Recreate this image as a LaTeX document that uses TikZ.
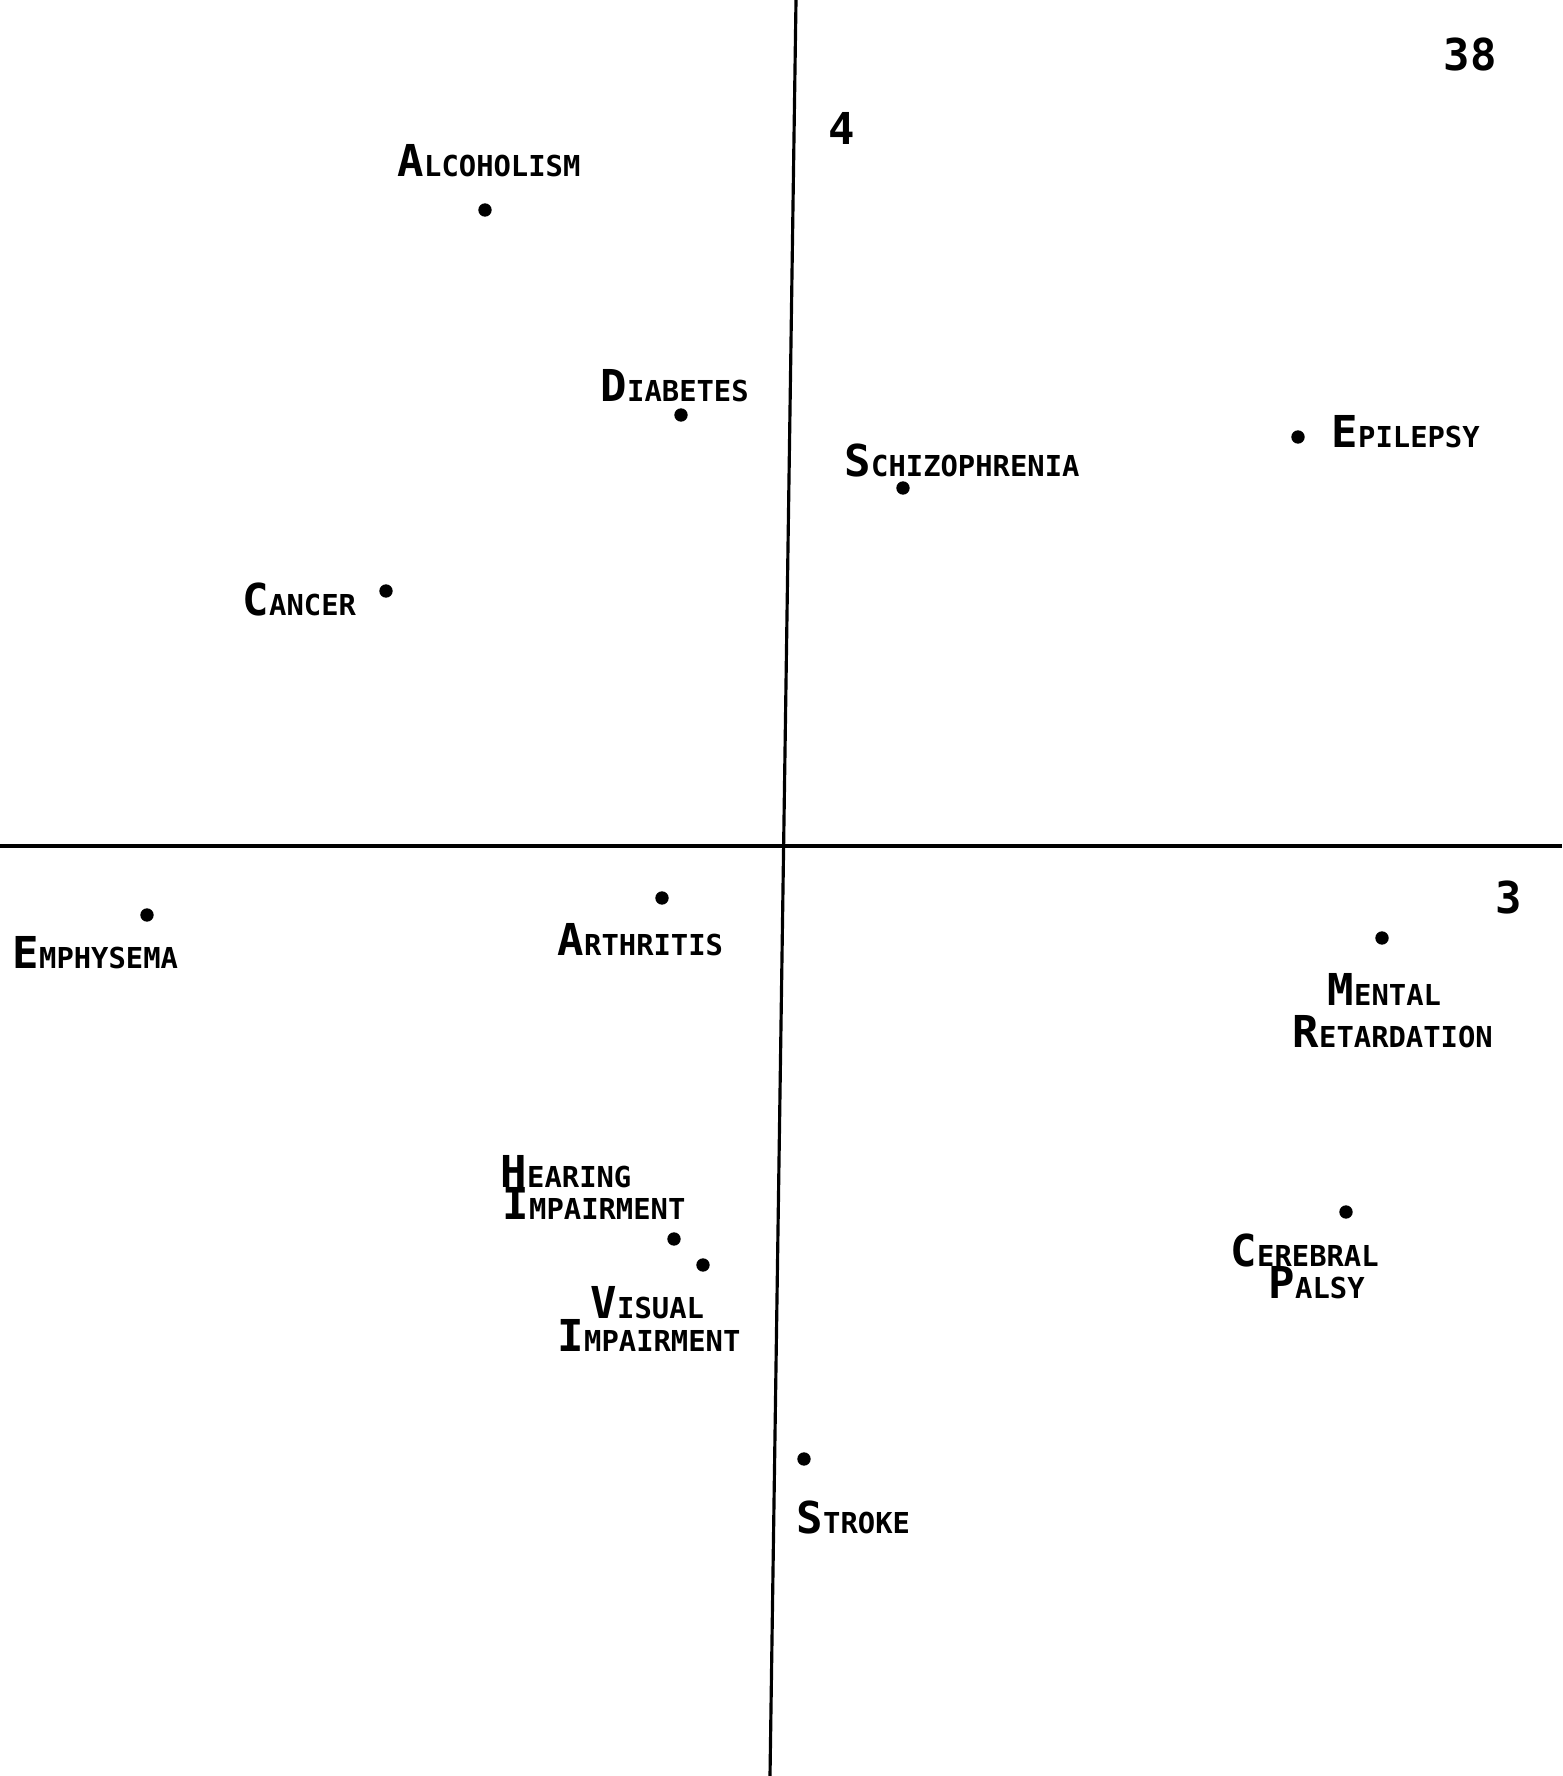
\documentclass[tikz,border=0pt]{standalone}
\usepackage{fontspec}
\newfontfamily\plotfont{DejaVu Sans Mono}
\newcommand{\capsz}{\fontsize{12.5}{14}\selectfont}
\newcommand{\scsz}{\fontsize{8.2}{10}\selectfont}
\newcommand{\plotsc}[2]{{\capsz #1}{\scsz #2}}
\tikzset{
  pt/.style={circle, fill=black, inner sep=0pt, minimum size=3.8pt},
  lbl/.style={anchor=base west, inner sep=0pt, font=\plotfont\bfseries},
  axis/.style={line width=0.9pt}
}

\begin{document}
\begin{tikzpicture}[x=0.01cm, y=-0.01cm]
      \useasboundingbox (0,0) rectangle (1562,1776);
      % axes
      \coordinate (top) at (796,0);
      \coordinate (bot) at (770,1776);
      \coordinate (lft) at (0,846);
      \coordinate (rgt) at (1562,846);
      \draw[axis] (top) -- (bot);
      \draw[axis] (lft) -- (rgt);
      % quadrant numbers
      \node[lbl] (q4) at (828,145) {\capsz 4};
      \node[lbl] (q3) at (1495,913) {\capsz 3};
      \node[lbl] (pg) at (1443,71) {\capsz 38};
      % points
      \node[pt] (alc) at (485,210) {};
      \node[pt] (dia) at (681,415) {};
      \node[pt] (sch) at (903,488) {};
      \node[pt] (epi) at (1298,437) {};
      \node[pt] (can) at (386,591) {};
      \node[pt] (emp) at (147,915) {};
      \node[pt] (art) at (662,898) {};
      \node[pt] (men) at (1382,938) {};
      \node[pt] (hea) at (674,1239) {};
      \node[pt] (vis) at (703,1265) {};
      \node[pt] (cer) at (1346,1212) {};
      \node[pt] (str) at (804,1459) {};
      % labels
      \node[lbl] (alclbl) at (397,177) {\plotsc{A}{LCOHOLISM}};
      \node[lbl] (dialbl) at (600,402) {\plotsc{D}{IABETES}};
      \node[lbl] (schlbl) at (844,476) {\plotsc{S}{CHIZOPHRENIA}};
      \node[lbl] (epilbl) at (1331,447) {\plotsc{E}{PILEPSY}};
      \node[lbl] (canlbl) at (242,615) {\plotsc{C}{ANCER}};
      \node[lbl] (emplbl) at (12,968) {\plotsc{E}{MPHYSEMA}};
      \node[lbl] (artlbl) at (557,955) {\plotsc{A}{RTHRITIS}};
      \node[lbl] (menlbl) at (1327,1005) {\plotsc{M}{ENTAL}};
      \node[lbl] (retlbl) at (1292,1047) {\plotsc{R}{ETARDATION}};
      \node[lbl] (healbl) at (500,1187) {\plotsc{H}{EARING}};
      \node[lbl] (himlbl) at (502,1219) {\plotsc{I}{MPAIRMENT}};
      \node[lbl] (vislbl) at (590,1318) {\plotsc{V}{ISUAL}};
      \node[lbl] (vimlbl) at (557,1351) {\plotsc{I}{MPAIRMENT}};
      \node[lbl] (cerlbl) at (1230,1266) {\plotsc{C}{EREBRAL}};
      \node[lbl] (pallbl) at (1268,1298) {\plotsc{P}{ALSY}};
      \node[lbl] (strlbl) at (796,1533) {\plotsc{S}{TROKE}};
    \end{tikzpicture}
\end{document}
